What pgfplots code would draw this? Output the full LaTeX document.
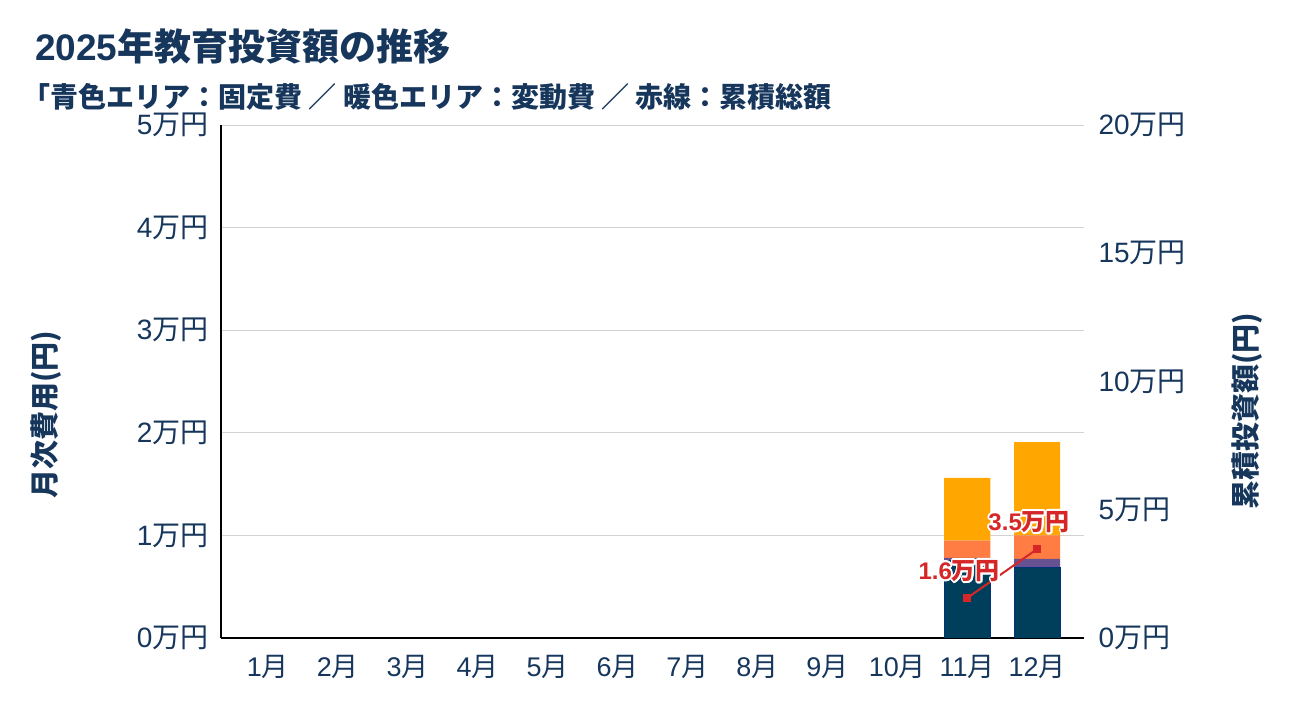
\documentclass[border=0pt]{standalone}
\usepackage{fontspec}
\setmainfont{Liberation Sans}
\newfontfamily\cjk{Noto Sans CJK JP}
\usepackage{pgfplots}
\pgfplotsset{compat=1.18}
\usepackage{contour}
\contourlength{1.8bp}
\definecolor{txt}{RGB}{22,54,92}
\definecolor{navy}{HTML}{003F5C}
\definecolor{purp}{HTML}{665191}
\definecolor{coral}{HTML}{FF7C43}
\definecolor{amber}{HTML}{FFA600}
\definecolor{redl}{HTML}{D62728}
\newcommand\M[1]{#1{\cjk 月}}
\begin{document}
\begin{tikzpicture}
\useasboundingbox (0bp,0bp) rectangle (1298bp,714bp);
\node[anchor=base west, text=txt, font=\fontsize{37bp}{42bp}\selectfont\bfseries, inner sep=0] at (35bp,653bp) {2025{\cjk 年教育投資額の推移}};
\node[anchor=base west, text=txt, font=\fontsize{28bp}{32bp}\selectfont\bfseries, inner sep=0] at (22bp,606bp) {\cjk 「青色エリア：固定費 ／ 暖色エリア：変動費 ／ 赤線：累積総額};
\begin{axis}[
  at={(221bp,76bp)}, anchor=south west, scale only axis,
  width=863bp, height=513bp,
  xmin=-0.67, xmax=11.67, ymin=0, ymax=5,
  xtick={0,...,11},
  xticklabels={\M1,\M2,\M3,\M4,\M5,\M6,\M7,\M8,\M9,\M{10},\M{11},\M{12}},
  ytick={0,1,2,3,4,5},
  yticklabel={\pgfmathparse{int(\tick)}\pgfmathresult{\cjk 万円}},
  axis x line*=bottom, axis y line*=left,
  axis line style={black, line width=1.2bp, -},
  major tick length=0,
  ymajorgrids, grid style={gray!35, line width=0.9bp},
  tick label style={text=txt, font=\fontsize{28bp}{32bp}\selectfont},
  xticklabel style={yshift=-14bp, font=\fontsize{27bp}{32bp}\selectfont},
  yticklabel style={xshift=-9bp},
  ylabel={\cjk\bfseries 月次費用(円)},
  ylabel style={at={(rel axis cs:-0.203,0.435)}, anchor=center, text=txt, font=\fontsize{29bp}{32bp}\selectfont},
  ybar stacked, bar width=0.66,
]
\addplot[fill=navy, draw=navy!80!blue, line width=1bp] coordinates {(0,0)(1,0)(2,0)(3,0)(4,0)(5,0)(6,0)(7,0)(8,0)(9,0)(10,0.76)(11,0.69)};
\addplot[fill=purp, draw=none] coordinates {(0,0)(1,0)(2,0)(3,0)(4,0)(5,0)(6,0)(7,0)(8,0)(9,0)(10,0.02)(11,0.08)};
\addplot[fill=coral, draw=none] coordinates {(0,0)(1,0)(2,0)(3,0)(4,0)(5,0)(6,0)(7,0)(8,0)(9,0)(10,0.17)(11,0.23)};
\addplot[fill=amber, draw=none] coordinates {(0,0)(1,0)(2,0)(3,0)(4,0)(5,0)(6,0)(7,0)(8,0)(9,0)(10,0.61)(11,0.91)};
\end{axis}
\begin{axis}[
  at={(221bp,76bp)}, anchor=south west, scale only axis,
  width=863bp, height=513bp,
  xmin=-0.67, xmax=11.67, ymin=0, ymax=20,
  ytick={0,5,10,15,20},
  yticklabel={\pgfmathparse{int(\tick)}\pgfmathresult{\cjk 万円}},
  axis x line=none, axis y line*=right,
  y axis line style={draw=none},
  major tick length=0,
  tick label style={text=txt, font=\fontsize{28bp}{32bp}\selectfont},
  yticklabel style={xshift=11bp},
  ylabel={\cjk\bfseries 累積投資額(円)},
  ylabel style={at={(rel axis cs:1.1886,0.442)}, anchor=center, text=txt, font=\fontsize{29bp}{32bp}\selectfont},
]
\addplot[redl, line width=2bp, mark=square*, mark size=3bp,
  point meta=explicit symbolic,
  nodes near coords={\contour{white}{\pgfplotspointmeta{\cjk 万円}}},
  every node near coord/.append style={anchor=center, yshift=26bp, xshift=-8bp, text=redl, font=\fontsize{24bp}{28bp}\selectfont\bfseries},
] coordinates {(10,1.56)[1.6] (11,3.47)[3.5]};
\end{axis}
\end{tikzpicture}
\end{document}
